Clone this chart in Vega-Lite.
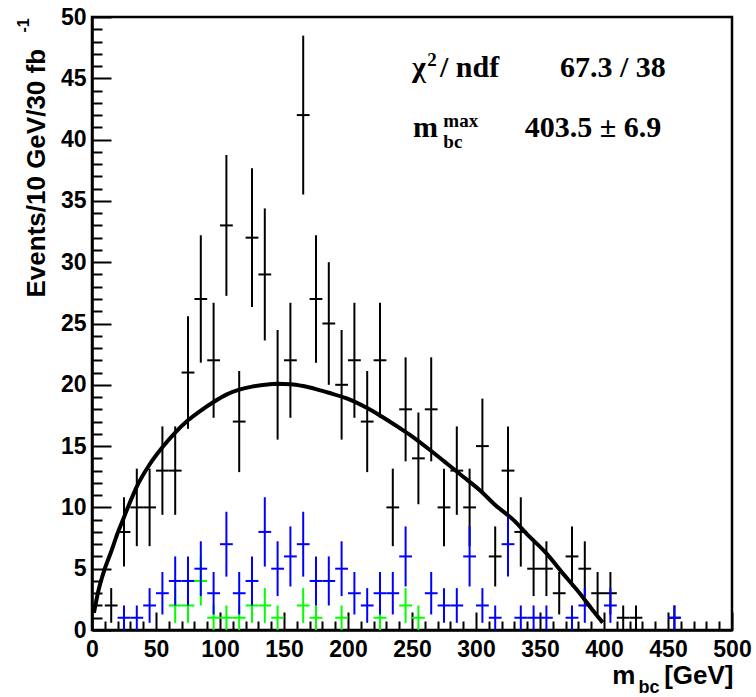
{
  "$schema": "https://vega.github.io/schema/vega-lite/v6.json",
  "width": 640,
  "height": 613,
  "autosize": {"type": "none"},
  "padding": {"left": 92, "top": 17, "right": 24, "bottom": 67},
  "background": "white",
  "config": {
    "view": {"stroke": "black", "strokeWidth": 2.5},
    "axis": {"grid": false, "domainColor": "black", "tickColor": "black", "labelColor": "black", "titleColor": "black", "labelFont": "Liberation Sans", "titleFont": "Liberation Sans", "labelFontWeight": "bold", "titleFontWeight": "bold"}
  },
  "datasets": {
    "black": [
      {"m": 15, "n": 2, "e": 1.414}, {"m": 25, "n": 8, "e": 2.828}, {"m": 35, "n": 10, "e": 3.162}, {"m": 45, "n": 10, "e": 3.162},
      {"m": 55, "n": 13, "e": 3.606}, {"m": 65, "n": 13, "e": 3.606}, {"m": 75, "n": 21, "e": 4.583}, {"m": 85, "n": 27, "e": 5.196},
      {"m": 95, "n": 22, "e": 4.690}, {"m": 105, "n": 33, "e": 5.745}, {"m": 115, "n": 17, "e": 4.123}, {"m": 125, "n": 32, "e": 5.657},
      {"m": 135, "n": 29, "e": 5.385}, {"m": 145, "n": 20, "e": 4.472}, {"m": 155, "n": 22, "e": 4.690}, {"m": 165, "n": 42, "e": 6.481},
      {"m": 175, "n": 27, "e": 5.196}, {"m": 185, "n": 25, "e": 5.0}, {"m": 195, "n": 20, "e": 4.472}, {"m": 205, "n": 22, "e": 4.690},
      {"m": 215, "n": 17, "e": 4.123}, {"m": 225, "n": 22, "e": 4.690}, {"m": 235, "n": 10, "e": 3.162}, {"m": 245, "n": 18, "e": 4.243},
      {"m": 255, "n": 14, "e": 3.742}, {"m": 265, "n": 18, "e": 4.243}, {"m": 275, "n": 10, "e": 3.162}, {"m": 285, "n": 13, "e": 3.606},
      {"m": 295, "n": 10, "e": 3.162}, {"m": 305, "n": 15, "e": 3.873}, {"m": 315, "n": 6, "e": 2.449}, {"m": 325, "n": 13, "e": 3.606},
      {"m": 335, "n": 8, "e": 2.828}, {"m": 345, "n": 5, "e": 2.236}, {"m": 355, "n": 5, "e": 2.236}, {"m": 365, "n": 3, "e": 1.732},
      {"m": 375, "n": 6, "e": 2.449}, {"m": 385, "n": 5, "e": 2.236}, {"m": 395, "n": 3, "e": 1.732}, {"m": 405, "n": 3, "e": 1.732},
      {"m": 415, "n": 1, "e": 1}, {"m": 425, "n": 1, "e": 1}, {"m": 455, "n": 1, "e": 1}
    ],
    "blue": [
      {"m": 25, "n": 1, "e": 1}, {"m": 35, "n": 1, "e": 1}, {"m": 45, "n": 2, "e": 1.414}, {"m": 55, "n": 3, "e": 1.732},
      {"m": 65, "n": 4, "e": 2}, {"m": 75, "n": 4, "e": 2}, {"m": 85, "n": 5, "e": 2.236}, {"m": 95, "n": 3, "e": 1.732},
      {"m": 105, "n": 7, "e": 2.646}, {"m": 115, "n": 3, "e": 1.732}, {"m": 125, "n": 4, "e": 2}, {"m": 135, "n": 8, "e": 2.828},
      {"m": 145, "n": 5, "e": 2.236}, {"m": 155, "n": 6, "e": 2.449}, {"m": 165, "n": 7, "e": 2.646}, {"m": 175, "n": 4, "e": 2},
      {"m": 185, "n": 4, "e": 2}, {"m": 195, "n": 5, "e": 2.236}, {"m": 205, "n": 3, "e": 1.732}, {"m": 215, "n": 2, "e": 1.414},
      {"m": 225, "n": 3, "e": 1.732}, {"m": 235, "n": 3, "e": 1.732}, {"m": 245, "n": 6, "e": 2.449}, {"m": 265, "n": 3, "e": 1.732},
      {"m": 275, "n": 2, "e": 1.414}, {"m": 285, "n": 2, "e": 1.414}, {"m": 295, "n": 6, "e": 2.449}, {"m": 305, "n": 2, "e": 1.414},
      {"m": 315, "n": 1, "e": 1}, {"m": 325, "n": 7, "e": 2.646}, {"m": 335, "n": 1, "e": 1}, {"m": 345, "n": 1, "e": 1},
      {"m": 355, "n": 1, "e": 1}, {"m": 375, "n": 1, "e": 1}, {"m": 385, "n": 2, "e": 1.414}, {"m": 405, "n": 2, "e": 1.414},
      {"m": 455, "n": 1, "e": 1}
    ],
    "green": [
      {"m": 65, "n": 2, "e": 1.414}, {"m": 75, "n": 2, "e": 1.414}, {"m": 85, "n": 4, "e": 2}, {"m": 95, "n": 1, "e": 1},
      {"m": 105, "n": 1, "e": 1}, {"m": 115, "n": 1, "e": 1}, {"m": 125, "n": 2, "e": 1.414}, {"m": 135, "n": 2, "e": 1.414},
      {"m": 145, "n": 1, "e": 1}, {"m": 165, "n": 2, "e": 1.414}, {"m": 175, "n": 1, "e": 1}, {"m": 195, "n": 1, "e": 1},
      {"m": 225, "n": 1, "e": 1}, {"m": 245, "n": 2, "e": 1.414}, {"m": 255, "n": 1, "e": 1}
    ],
    "fit": [
      {"m": 1.5, "f": 1.4}, {"m": 5, "f": 3.2}, {"m": 10, "f": 5.0}, {"m": 15, "f": 6.4}, {"m": 20, "f": 7.9},
      {"m": 25, "f": 9.2}, {"m": 30, "f": 10.5}, {"m": 35, "f": 11.7}, {"m": 45, "f": 13.5}, {"m": 55, "f": 14.9},
      {"m": 65, "f": 16.1}, {"m": 75, "f": 17.1}, {"m": 85, "f": 17.9}, {"m": 95, "f": 18.6}, {"m": 105, "f": 19.2},
      {"m": 115, "f": 19.6}, {"m": 125, "f": 19.85}, {"m": 135, "f": 20.0}, {"m": 145, "f": 20.08}, {"m": 155, "f": 20.05},
      {"m": 165, "f": 19.9}, {"m": 175, "f": 19.65}, {"m": 185, "f": 19.35}, {"m": 200, "f": 18.85}, {"m": 215, "f": 18.1},
      {"m": 225, "f": 17.5}, {"m": 240, "f": 16.5}, {"m": 250, "f": 15.8}, {"m": 265, "f": 14.6}, {"m": 277, "f": 13.6},
      {"m": 290, "f": 12.5}, {"m": 303, "f": 11.4}, {"m": 315, "f": 10.2}, {"m": 329, "f": 9.0}, {"m": 340, "f": 7.8},
      {"m": 355, "f": 6.25}, {"m": 368, "f": 4.6}, {"m": 381, "f": 3.0}, {"m": 392, "f": 1.5}, {"m": 399, "f": 0.6}
    ],
    "lbl": [
      {"x": 250, "y": 45.1, "t": "χ"},
      {"x": 271.9, "y": 45.1, "t": "/ ndf"},
      {"x": 250.8, "y": 40.2, "t": "m"}
    ],
    "val": [
      {"x": 406.9, "y": 45.1, "t": "67.3 / 38"},
      {"x": 391.4, "y": 40.2, "t": "403.5 ± 6.9"}
    ],
    "sub": [
      {"x": 262, "y": 46.0, "t": "2"},
      {"x": 274.5, "y": 41.0, "t": "max"},
      {"x": 274.5, "y": 39.3, "t": "bc"}
    ]
  },
  "resolve": {"axis": {"x": "independent", "y": "independent"}},
  "layer": [
    {
      "data": {"name": "black"},
      "mark": {"type": "errorbar", "color": "#000000", "thickness": 2},
      "encoding": {
        "x": {"field": "m", "type": "quantitative", "scale": {"domain": [0, 500], "nice": false, "zero": false}, "axis": null},
        "y": {"field": "n", "type": "quantitative", "scale": {"domain": [0, 50], "nice": false, "zero": false}, "axis": null},
        "yError": {"field": "e"}
      }
    },
    {
      "data": {"name": "black"},
      "mark": {"type": "tick", "orient": "horizontal", "size": 12.8, "thickness": 2, "color": "#000000", "opacity": 1},
      "encoding": {
        "x": {"field": "m", "type": "quantitative", "scale": {"domain": [0, 500], "nice": false, "zero": false},
          "axis": {"orient": "bottom", "values": [10,20,30,40,60,70,80,90,110,120,130,140,160,170,180,190,210,220,230,240,260,270,280,290,310,320,330,340,360,370,380,390,410,420,430,440,460,470,480,490],
            "tickSize": -9, "tickWidth": 2, "labels": false, "domain": false, "grid": false,
            "title": "bc", "titleFontSize": 18, "titleX": 546, "titleY": 62, "titleAlign": "left", "titleBaseline": "alphabetic", "titleAnchor": null}},
        "y": {"field": "n", "type": "quantitative", "scale": {"domain": [0, 50], "nice": false, "zero": false},
          "axis": {"orient": "left", "values": [1,2,3,4,6,7,8,9,11,12,13,14,16,17,18,19,21,22,23,24,26,27,28,29,31,32,33,34,36,37,38,39,41,42,43,44,46,47,48,49],
            "tickSize": -10, "tickWidth": 2, "labels": false, "domain": false, "grid": false,
            "title": "-1", "titleFontSize": 16, "titleAngle": 270, "titleX": -64, "titleY": 15, "titleAlign": "left", "titleBaseline": "alphabetic", "titleAnchor": null}}
      }
    },
    {
      "data": {"name": "green"},
      "mark": {"type": "errorbar", "color": "#00ff00", "thickness": 2},
      "encoding": {
        "x": {"field": "m", "type": "quantitative", "scale": {"domain": [0, 500], "nice": false, "zero": false}, "axis": null},
        "y": {"field": "n", "type": "quantitative", "scale": {"domain": [0, 50], "nice": false, "zero": false}, "axis": null},
        "yError": {"field": "e"}
      }
    },
    {
      "data": {"name": "green"},
      "mark": {"type": "tick", "orient": "horizontal", "size": 12.8, "thickness": 2, "color": "#00ff00", "opacity": 1},
      "encoding": {
        "x": {"field": "m", "type": "quantitative", "scale": {"domain": [0, 500], "nice": false, "zero": false}, "axis": null},
        "y": {"field": "n", "type": "quantitative", "scale": {"domain": [0, 50], "nice": false, "zero": false}, "axis": null}
      }
    },
    {
      "data": {"name": "blue"},
      "mark": {"type": "errorbar", "color": "#0000ff", "thickness": 2},
      "encoding": {
        "x": {"field": "m", "type": "quantitative", "scale": {"domain": [0, 500], "nice": false, "zero": false}, "axis": null},
        "y": {"field": "n", "type": "quantitative", "scale": {"domain": [0, 50], "nice": false, "zero": false}, "axis": null},
        "yError": {"field": "e"}
      }
    },
    {
      "data": {"name": "blue"},
      "mark": {"type": "tick", "orient": "horizontal", "size": 12.8, "thickness": 2, "color": "#0000ff", "opacity": 1},
      "encoding": {
        "x": {"field": "m", "type": "quantitative", "scale": {"domain": [0, 500], "nice": false, "zero": false}, "axis": null},
        "y": {"field": "n", "type": "quantitative", "scale": {"domain": [0, 50], "nice": false, "zero": false}, "axis": null}
      }
    },
    {
      "data": {"name": "fit"},
      "mark": {"type": "line", "color": "#000000", "strokeWidth": 4, "interpolate": "monotone"},
      "encoding": {
        "x": {"field": "m", "type": "quantitative", "scale": {"domain": [0, 500], "nice": false, "zero": false},
          "axis": {"orient": "bottom", "values": [0,50,100,150,200,250,300,350,400,450,500],
            "tickSize": -18, "tickWidth": 2, "domainWidth": 2.5, "labelFontSize": 23, "labelPadding": 44, "labelBaseline": "alphabetic", "labelFlush": false, "labelOverlap": false,
            "title": "m\u00a0\u00a0\u00a0\u00a0[GeV]", "titleFontSize": 26, "titleX": 641, "titleY": 53, "titleAlign": "right", "titleBaseline": "alphabetic", "titleAnchor": null}},
        "y": {"field": "f", "type": "quantitative", "scale": {"domain": [0, 50], "nice": false, "zero": false},
          "axis": {"orient": "left", "values": [0,5,10,15,20,25,30,35,40,45,50],
            "tickSize": -19, "tickWidth": 2, "domainWidth": 2.5, "labelFontSize": 23, "labelPadding": 25, "labelBaseline": "middle", "labelFlush": false, "labelOverlap": false,
            "title": "Events/10 GeV/30 fb", "titleFontSize": 26, "titleAngle": 270, "titleX": -48, "titleY": 280, "titleAlign": "left", "titleBaseline": "alphabetic", "titleAnchor": null}}
      }
    },
    {
      "data": {"name": "lbl"},
      "mark": {"type": "text", "font": "Liberation Serif", "fontWeight": "bold", "fontSize": 30, "align": "left", "baseline": "alphabetic", "color": "#000000"},
      "encoding": {
        "x": {"field": "x", "type": "quantitative", "scale": {"domain": [0, 500], "nice": false, "zero": false}, "axis": null},
        "y": {"field": "y", "type": "quantitative", "scale": {"domain": [0, 50], "nice": false, "zero": false}, "axis": null},
        "text": {"field": "t"}
      }
    },
    {
      "data": {"name": "val"},
      "mark": {"type": "text", "font": "Liberation Serif", "fontWeight": "bold", "fontSize": 30, "align": "center", "baseline": "alphabetic", "color": "#000000"},
      "encoding": {
        "x": {"field": "x", "type": "quantitative", "scale": {"domain": [0, 500], "nice": false, "zero": false}, "axis": null},
        "y": {"field": "y", "type": "quantitative", "scale": {"domain": [0, 50], "nice": false, "zero": false}, "axis": null},
        "text": {"field": "t"}
      }
    },
    {
      "data": {"name": "sub"},
      "mark": {"type": "text", "font": "Liberation Serif", "fontWeight": "bold", "fontSize": 19, "align": "left", "baseline": "alphabetic", "color": "#000000"},
      "encoding": {
        "x": {"field": "x", "type": "quantitative", "scale": {"domain": [0, 500], "nice": false, "zero": false}, "axis": null},
        "y": {"field": "y", "type": "quantitative", "scale": {"domain": [0, 50], "nice": false, "zero": false}, "axis": null},
        "text": {"field": "t"}
      }
    }
  ]
}
